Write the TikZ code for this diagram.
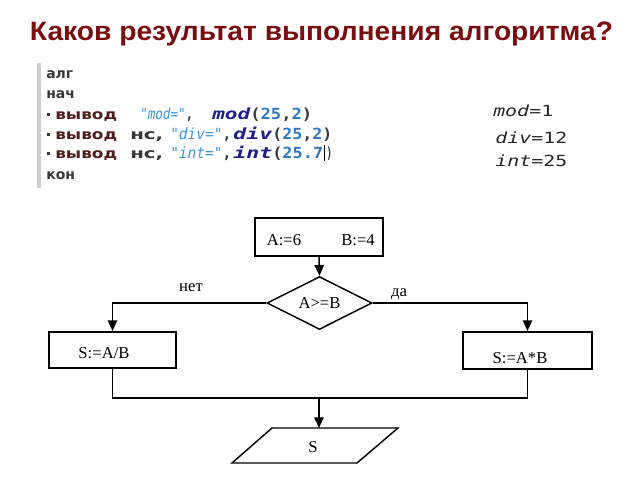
\documentclass[tikz,border=0pt]{standalone}
\usepackage{graphicx}
\usepackage{fontspec}
\setmainfont{Liberation Serif}
\newfontfamily\titlefont{Liberation Sans}
\newfontfamily\codefont{DejaVu Sans}
\newfontfamily\monofont{DejaVu Sans Mono}
\usetikzlibrary{shapes.geometric,arrows.meta}
\definecolor{titlered}{RGB}{122,14,14}
\definecolor{kwgray}{RGB}{55,55,55}
\definecolor{kwred}{RGB}{85,28,28}
\definecolor{strblue}{RGB}{60,150,220}
\definecolor{fnblue}{RGB}{30,30,140}
\definecolor{numblue}{RGB}{45,120,195}
\definecolor{barcol}{RGB}{200,208,200}
\tikzset{
  box/.style={draw, line width=1.6pt, rectangle, inner sep=0pt},
  line/.style={line width=1.1pt},
  arr/.style={line width=1.1pt, -{Triangle[length=8pt,width=7pt]}},
  fc/.style={font=\fontsize{12.5}{14}\selectfont, inner sep=0pt},
  code/.style={anchor=base west, inner sep=0pt, text=kwgray, font=\codefont\fontsize{10.5}{12}\selectfont\bfseries},
  lat/.style={anchor=base west, inner sep=0pt, text=kwgray, font=\monofont\fontsize{11.5}{13}\selectfont\bfseries},
  res/.style={anchor=base west, inner sep=0pt, text=black!85, font=\monofont\fontsize{11.5}{14}\selectfont},
  bul/.style={fill=kwgray, minimum size=2.6pt, inner sep=0pt, outer sep=0pt},
}
\newcommand{\fw}[2]{\resizebox{#1pt}{\height}{#2}}
\newcommand{\strq}[1]{\textcolor{strblue}{\mdseries\itshape #1}}
\newcommand{\fnb}[1]{\textcolor{fnblue}{\itshape #1}}
\newcommand{\nmb}[1]{\textcolor{numblue}{#1}}
\begin{document}
\begin{tikzpicture}[x=0.75pt,y=-0.75pt]
\useasboundingbox (0,0) rectangle (640,480);
% title
\node[anchor=base, inner sep=0pt, font=\titlefont\fontsize{20}{22}\selectfont\bfseries, text=titlered] (title) at (321.5,40) {\fw{437.25}{Каков результат выполнения алгоритма?}};
% code panel
\fill[barcol] (37,63) rectangle (41,188);
\node[code] (l1) at (46,78) {алг};
\node[code] (l2) at (46,98) {нач};
\node[code] (l6) at (46,179) {кон};
% line 3
\node[bul] (b3) at (48.5,114.5) {};
\node[code, text=kwred] (v3) at (55,119) {\fw{46.5}{вывод}};
\node[lat] (s3) at (140,119) {\fw{39.75}{\strq{"mod="},}};
\node[lat] (f3) at (212,119) {\fw{28.5}{\fnb{mod}}};
\node[lat] (a3) at (250,119) {\fw{46.5}{(\nmb{25},\nmb{2})}};
% line 4
\node[bul] (b4) at (48.5,134.5) {};
\node[code, text=kwred] (v4) at (55,139) {\fw{46.5}{вывод}};
\node[code] (n4) at (130,139) {\fw{24.75}{нс,}};
\node[lat] (s4) at (170,139) {\fw{45.75}{\strq{"div="},}};
\node[lat] (f4) at (233,139) {\fw{29.25}{\fnb{div}}};
\node[lat] (a4) at (272,139) {\fw{45}{(\nmb{25},\nmb{2})}};
% line 5
\node[bul] (b5) at (48.5,153.5) {};
\node[code, text=kwred] (v5) at (55,158) {\fw{46.5}{вывод}};
\node[code] (n5) at (130,158) {\fw{24.75}{нс,}};
\node[lat] (s5) at (170,158) {\fw{45.75}{\strq{"int="},}};
\node[lat] (f5) at (233,158) {\fw{29.25}{\fnb{int}}};
\node[lat] (a5) at (272,158) {\fw{38.25}{(\nmb{25.7}}};
\draw[black, line width=0.6pt] (324.5,161) -- (324.5,145);
\node[lat] (c5) at (326,158) {\fw{4.5}{)}};
% results
\node[res] (r1) at (493,116) {\fw{45}{\textit{mod}=1}};
\node[res] (r2) at (495,143) {\fw{54}{\textit{div}=12}};
\node[res] (r3) at (495,166) {\fw{54}{\textit{int}=25}};
% flowchart
\node[box, minimum width=96pt, minimum height=28.5pt] (init) at (319,237) {};
\node[fc] (ta) at (284,240) {A:=6};
\node[fc] (tb) at (358,240) {B:=4};
\node[draw, line width=1.1pt, diamond, minimum width=78.75pt, minimum height=35.25pt, inner sep=0pt, fc] (dec) at (319.5,303) {A>=B};
\node[box, minimum width=95pt, minimum height=27pt] (left) at (112.5,350) {};
\node[fc] (lt) at (104,353) {S:=A/B};
\node[box, minimum width=97pt, minimum height=27.75pt] (right) at (527.5,350.5) {};
\node[fc] (rt) at (520,358) {S:=A*B};
\draw[arr] (init.south) -- (dec.north);
\draw[arr] (dec.west) -| (left.north);
\draw[arr] (dec.east) -| (right.north);
\node[fc] (no) at (191,288) {нет};
\node[fc] (yes) at (399,294) {да};
\coordinate (mrg) at (319,398);
\draw[line] (left.south) |- (mrg) -| (right.south);
% output parallelogram
\draw[line] (272,428) -- (398,428) -- (357,463) -- (232,463) -- cycle;
\coordinate (outtop) at (319,428);
\node[fc] (outs) at (313,447) {S};
\draw[arr] (mrg) -- (outtop);
\end{tikzpicture}
\end{document}
